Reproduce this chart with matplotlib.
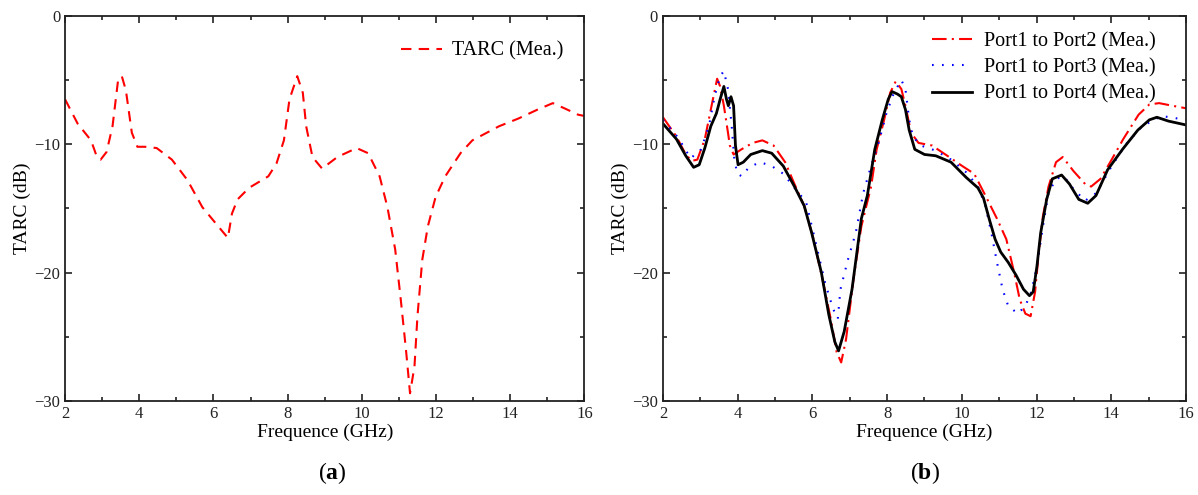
import matplotlib
matplotlib.use("Agg")
import matplotlib.pyplot as plt
from matplotlib.ticker import MultipleLocator

plt.rcParams['font.family'] = ['Liberation Serif', 'DejaVu Serif']
plt.rcParams['mathtext.fontset'] = 'custom'
plt.rcParams['mathtext.rm'] = 'Liberation Serif'
plt.rcParams['mathtext.bf'] = 'Liberation Serif:bold'

# (a) measured TARC
freq_a = [2.0, 2.34, 2.7, 2.86, 2.96, 3.12, 3.28, 3.43, 3.53, 3.64, 3.8, 3.95, 4.16, 4.47,
          4.88, 5.3, 5.7, 6.13, 6.39, 6.5, 6.65, 6.96, 7.48, 7.7, 7.9, 8.05, 8.26, 8.41,
          8.5, 8.67, 8.93, 9.34, 9.86, 10.17, 10.48, 10.69, 10.9, 11.05, 11.19, 11.3,
          11.42, 11.5, 11.63, 11.78, 11.99, 12.25, 12.66, 12.98, 13.7, 14.22, 14.74,
          15.15, 15.46, 15.83, 16.0]
tarc_a = [-6.5, -8.4, -9.7, -11.0, -11.2, -10.6, -8.6, -5.0, -4.7, -5.8, -9.1, -10.2, -10.2,
          -10.3, -11.2, -12.8, -14.9, -16.4, -17.3, -15.4, -14.3, -13.4, -12.5, -11.5, -9.7,
          -6.5, -4.7, -6.0, -8.6, -11.0, -11.9, -11.0, -10.3, -10.7, -12.5, -14.9, -18.2,
          -22.1, -26.0, -29.4, -27.3, -23.4, -19.0, -16.4, -14.1, -12.5, -10.7, -9.7, -8.6,
          -8.0, -7.3, -6.8, -7.2, -7.7, -7.8]

# (b) port to port measurements
freq_p2 = [2.0, 2.36, 2.61, 2.77, 2.92, 3.12, 3.28, 3.45, 3.53, 3.63, 3.74, 3.79, 3.89, 4.1,
           4.4, 4.66, 4.96, 5.27, 5.52, 5.78, 6.03, 6.29, 6.49, 6.65, 6.77, 6.9, 7.1, 7.31,
           7.57, 7.72, 7.92, 8.08, 8.23, 8.38, 8.49, 8.64, 8.84, 9.2, 9.61, 10.01, 10.33,
           10.63, 10.94, 11.19, 11.4, 11.55, 11.7, 11.84, 11.96, 12.06, 12.17, 12.32, 12.52,
           12.7, 12.99, 13.3, 13.46, 13.71, 14.01, 14.32, 14.73, 15.02, 15.28, 15.63, 16.0]
tarc_p2 = [-7.9, -9.4, -10.8, -11.3, -11.2, -9.6, -7.3, -4.9, -5.5, -7.0, -9.1, -10.1, -10.8,
           -10.4, -9.9, -9.7, -10.1, -11.4, -13.1, -14.8, -17.4, -20.8, -23.6, -26.2, -27.0,
           -25.2, -20.5, -16.4, -13.3, -10.4, -8.1, -6.0, -5.1, -5.7, -7.0, -9.1, -9.9,
           -10.1, -10.9, -11.7, -12.3, -14.0, -15.8, -17.4, -20.0, -22.1, -23.2, -23.4,
           -21.5, -18.4, -15.6, -13.3, -11.4, -11.0, -12.1, -13.1, -13.3, -12.7, -11.2,
           -9.6, -7.7, -6.9, -6.8, -7.0, -7.2]

freq_p3 = [2.0, 2.41, 2.74, 3.02, 3.23, 3.38, 3.53, 3.63, 3.74, 3.84, 3.91, 3.99, 4.11, 4.3,
           4.6, 4.91, 5.22, 5.52, 5.83, 6.09, 6.34, 6.55, 6.68, 6.75, 6.95, 7.16, 7.36,
           7.57, 7.77, 7.98, 8.18, 8.38, 8.49, 8.59, 8.69, 8.9, 9.3, 9.71, 10.12, 10.43,
           10.63, 10.79, 10.94, 11.09, 11.24, 11.5, 11.7, 11.86, 12.01, 12.17, 12.32, 12.52,
           12.73, 12.99, 13.3, 13.6, 14.01, 14.42, 14.83, 15.34, 16.0]
tarc_p3 = [-8.1, -9.5, -11.1, -10.4, -8.6, -6.3, -4.7, -4.3, -5.7, -8.6, -11.2, -12.3, -12.5,
           -11.8, -11.4, -11.7, -12.3, -13.4, -14.5, -17.7, -20.8, -22.8, -23.6, -21.3,
           -19.0, -16.9, -13.8, -11.7, -9.9, -7.6, -6.0, -5.0, -5.7, -8.1, -9.4, -10.1,
           -10.5, -11.2, -12.2, -13.3, -14.8, -16.9, -19.2, -21.3, -22.6, -23.2, -22.6,
           -21.5, -19.5, -16.4, -13.8, -12.7, -12.5, -13.5, -14.4, -13.8, -11.7, -9.9,
           -8.6, -7.8, -8.1]

freq_p4 = [2.0, 2.36, 2.61, 2.82, 2.97, 3.12, 3.28, 3.43, 3.53, 3.63, 3.7, 3.75, 3.82, 3.89,
           3.94, 4.01, 4.15, 4.35, 4.66, 4.91, 5.22, 5.52, 5.78, 5.98, 6.24, 6.44, 6.6, 6.7,
           6.85, 7.06, 7.31, 7.47, 7.67, 7.87, 8.03, 8.13, 8.28, 8.38, 8.49, 8.59, 8.74,
           9.0, 9.3, 9.71, 10.12, 10.43, 10.58, 10.73, 10.89, 11.04, 11.24, 11.45, 11.65,
           11.81, 11.91, 12.01, 12.11, 12.27, 12.42, 12.67, 12.88, 13.13, 13.37, 13.59,
           13.9, 14.3, 14.71, 15.02, 15.22, 15.53, 16.0]
tarc_p4 = [-8.4, -9.6, -10.9, -11.8, -11.6, -10.3, -8.6, -7.6, -6.5, -5.5, -6.5, -7.0, -6.3,
           -7.0, -10.1, -11.6, -11.4, -10.8, -10.5, -10.7, -11.7, -13.3, -14.8, -16.9,
           -20.0, -23.3, -25.4, -26.1, -24.6, -21.3, -15.8, -14.0, -10.4, -8.1, -6.5, -5.9,
           -6.1, -6.3, -7.3, -8.9, -10.4, -10.8, -10.9, -11.4, -12.6, -13.4, -14.2, -15.8,
           -17.4, -18.4, -19.2, -20.2, -21.3, -21.8, -21.5, -19.5, -16.9, -14.3, -12.7,
           -12.4, -13.1, -14.3, -14.6, -14.0, -12.0, -10.4, -8.9, -8.1, -7.9, -8.2, -8.5]

fig = plt.figure(figsize=(11.98, 4.95), dpi=100)
ax1 = fig.add_axes([0.0543, 0.19, 0.4335, 0.778])
ax2 = fig.add_axes([0.5534, 0.19, 0.4366, 0.778])

ax1.plot(freq_a, tarc_a, color='red', lw=1.5, linestyle=(0, (5, 3.5)), label='TARC (Mea.)')

ax2.plot(freq_p2, tarc_p2, color='red', lw=1.5, linestyle=(0, (7, 2.5, 1, 2.5)),
         label='Port1 to Port2 (Mea.)')
ax2.plot(freq_p3, tarc_p3, color='blue', lw=1.5, linestyle=(0, (0.8, 4)),
         label='Port1 to Port3 (Mea.)')
ax2.plot(freq_p4, tarc_p4, color='black', lw=2.0, linestyle='-',
         label='Port1 to Port4 (Mea.)')

for ax in (ax1, ax2):
    ax.set_xlim(2, 16)
    ax.set_ylim(-30, 0)
    ax.xaxis.set_major_locator(MultipleLocator(2))
    ax.xaxis.set_minor_locator(MultipleLocator(1))
    ax.yaxis.set_major_locator(MultipleLocator(10))
    ax.yaxis.set_minor_locator(MultipleLocator(5))
    ax.tick_params(which='both', direction='in', top=True, right=True, labelsize=12,
                   width=1.2, colors='#222222', labelcolor='#222222')
    ax.tick_params(which='major', length=5)
    ax.tick_params(which='minor', length=3)
    for s in ax.spines.values():
        s.set_linewidth(1.3)
        s.set_color('#222222')
    ax.set_xlabel('Frequence (GHz)', fontsize=14, labelpad=1)
    ax.set_ylabel('TARC (dB)', fontsize=14, labelpad=2)

ax1.legend(loc='upper right', bbox_to_anchor=(0.99, 0.975), frameon=False, fontsize=14.5,
           handlelength=2.0, handletextpad=0.5, borderaxespad=0.4)
ax2.legend(loc='upper right', bbox_to_anchor=(0.972, 1.0), frameon=False, fontsize=14.5,
           handlelength=2.0, handletextpad=0.55, labelspacing=0.35, borderaxespad=0.4)

fig.text(0.2775, 0.045, r'($\mathbf{a}$)', ha='center', va='center', fontsize=17)
fig.text(0.7717, 0.045, r'($\mathbf{b}$)', ha='center', va='center', fontsize=17)

fig.savefig('out.png', dpi=100)
